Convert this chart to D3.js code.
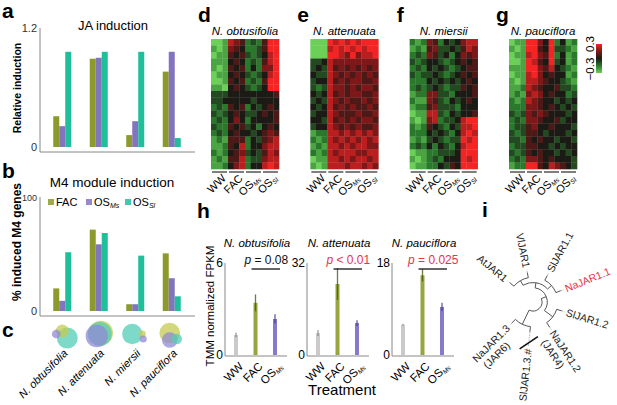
<!DOCTYPE html>
<html>
<head>
<meta charset="utf-8">
<script src="https://cdn.jsdelivr.net/npm/d3@7"></script>
<style>
  body { margin: 0; background: #fff; }
  text { font-family: "Liberation Sans", Arial, Helvetica, sans-serif; }
</style>
</head>
<body>
<script>
// ---- data ----
var species = ['N. obtusifolia', 'N. attenuata', 'N. miersii', 'N. pauciflora'];
var elicitors = ['FAC', 'OS_Ms', 'OS_Sl'];

// a: JA induction (relative)
var jaFAC = [0.31, 0.89, 0.12, 0.76];
var jaOSMs = [0.21, 0.90, 0.26, 0.96];
var jaOSSl = [0.96, 0.96, 0.96, 0.09];

// b: % induced M4 genes
var m4FAC = [20, 72, 6, 51];
var m4OSMs = [9, 59, 6, 29];
var m4OSSl = [52, 69, 49, 13];

// d-g: heatmaps, 12 columns (WW x3, FAC x3, OS_Ms x3, OS_Sl x3), coarse row bands
// digit 0 = -0.3 (green) ... 4 = 0 (black) ... 8 = +0.3 (red)
var heatTreatments = ['WW', 'FAC', 'OS_Ms', 'OS_Sl'];
var heatObtusifolia = [
  '001765232588', '101654223588', '011545323478', '111454232578', '101545242668',
  '011454323478', '001545232588', '110454323488', '333444444445', '334444434444',
  '232545243454', '323454334545', '232464244445', '322545342454', '232454434565',
  '121555243567', '112547244677', '212456343576', '121557233677', '112467244787'
];
var heatAttenuata = [
  '000878787888', '000787878788', '000887686778', '334766666666', '343756565656',
  '433765656565', '344756566556', '323766565665', '434756566556', '343765655656',
  '434756565565', '344765556556', '443756565665', '344765656556', '122776767676',
  '212767676767', '121776767766', '212767776677', '011776767767', '101777677676'
];
var heatMiersii = [
  '212652434677', '121563343576', '232653424656', '323443234545', '232434323455',
  '323343234545', '222434343454', '232343233545', '122663324445', '211653243454',
  '122563332444', '011773243445', '101672334788', '212543243778', '222434324787',
  '121343233878', '232424324788', '011223334888', '101232444878', '011224354888'
];
var heatPauciflora = [
  '011886482412', '101885483321', '011786582412', '001875483412', '111886574321',
  '011786454412', '101776544321', '112765445332', '121676454423', '212765443434',
  '222665454343', '323656544434', '232665445344', '233564454443', '323554344434',
  '332545443443', '233554434344', '323545443434', '232665454443', '122885476543'
];
var heatLegend = [-0.3, 0.3];

// h: TMM normalized FPKM
var hSpecies = ['N. obtusifolia', 'N. attenuata', 'N. pauciflora'];
var hTreatments = ['WW', 'FAC', 'OS_Ms'];
var hMean = [[1.3, 3.4, 2.35], [7.6, 24.7, 11.1], [5.9, 15.6, 9.4]];
var hErr = [[0.15, 0.55, 0.3], [1.0, 5.5, 1.0], [0.2, 1.2, 0.8]];
var hYMax = [6, 32, 18];
var hPText = ['= 0.08', '< 0.01', '= 0.025'];
var hPSignificant = [false, true, true];

// i: JAR tree
var jarTree = {
  children: [
    { children: [
      { children: [
        { children: [{ name: 'AtJAR1' }, { name: 'VlJAR1' }] },
        { children: [{ name: 'SlJAR1.1' }, { name: 'NaJAR1.1', highlight: true }] }
      ] },
      { children: [{ name: 'SlJAR1.2' }, { name: 'NaJAR1.2', note: '(JAR4)' }] }
    ] },
    { children: [{ name: 'SlJAR1.3.#', broken: true }, { name: 'NaJAR1.3', note: '(JAR6)' }] }
  ]
};

// ---- styles / layout ----
var colors = { FAC: '#8c9a2b', OS_Ms: '#8274bd', OS_Sl: '#1fbf9c' };
var vennColors = { FAC: '#c3cb4f', OS_Ms: '#9189d6', OS_Sl: '#52cdb6' };
var red = '#e8344a';

var svg = d3.select('body').append('svg')
  .attr('width', 617)
  .attr('height', 405);

function panelLetter(ch, x, y) {
  svg.append('text').attr('x', x).attr('y', y)
    .attr('font-size', 21).attr('font-weight', 'bold').text(ch);
}

// text with optional italic subscript, e.g. 'OS_Ms'
function subText(sel, s, subSize) {
  var parts = s.split('_');
  sel.append('tspan').text(parts[0]);
  if (parts[1]) {
    sel.append('tspan').attr('font-size', subSize).attr('font-style', 'italic')
      .attr('dy', 2).text(parts[1]);
  }
}

// ---- panels a, b, c ----
var xSpecies = d3.scaleBand().domain(species).range([44, 190]);
var xElicitor = d3.scaleBand().domain(elicitors).range([-9, 9]);

function barPanel(yScale, series, axisTop, axisBottom, tickTop) {
  var g = svg.append('g');
  g.append('line').attr('x1', 40).attr('x2', 40).attr('y1', axisTop).attr('y2', axisBottom)
    .attr('stroke', '#888');
  g.append('line').attr('x1', 40).attr('x2', 195).attr('y1', axisBottom).attr('y2', axisBottom)
    .attr('stroke', '#888');
  yScale.domain().forEach(function (v) {
    g.append('text').attr('x', 37).attr('y', yScale(v)).attr('dy', '0.35em')
      .attr('text-anchor', 'end').attr('font-size', v === 0 ? 11 : tickTop).attr('fill', '#333')
      .text(v);
  });
  elicitors.forEach(function (el, i) {
    g.selectAll(null).data(series[i]).join('rect')
      .attr('x', function (d, k) { return xSpecies(species[k]) + xSpecies.bandwidth() / 2 + xElicitor(el); })
      .attr('width', xElicitor.bandwidth())
      .attr('y', function (d) { return yScale(d); })
      .attr('height', function (d) { return yScale(0) - yScale(d); })
      .attr('fill', colors[el]);
  });
}

panelLetter('a', 2, 18);
svg.append('text').attr('x', 113).attr('y', 30).attr('text-anchor', 'middle')
  .attr('font-size', 13).text('JA induction');
var yA = d3.scaleLinear().domain([0, 1.2]).range([147, 28]);
barPanel(yA, [jaFAC, jaOSMs, jaOSSl], 28, 152, 11);
svg.append('text').attr('transform', 'translate(21,88) rotate(-90)')
  .attr('text-anchor', 'middle').attr('font-size', 10.5).attr('font-weight', 'bold')
  .text('Relative induction');

panelLetter('b', 2, 178);
svg.append('text').attr('x', 112).attr('y', 187).attr('text-anchor', 'middle')
  .attr('font-size', 13.5).text('M4 module induction');
var yB = d3.scaleLinear().domain([0, 100]).range([311, 198]);
barPanel(yB, [m4FAC, m4OSMs, m4OSSl], 197, 316, 9);
svg.append('text').attr('transform', 'translate(21,242) rotate(-90)')
  .attr('text-anchor', 'middle').attr('font-size', 12).attr('font-weight', 'bold')
  .text('% induced M4 genes');

// legend in b
var legX = d3.scaleOrdinal().domain(elicitors).range([48, 86, 125]);
elicitors.forEach(function (el) {
  svg.append('rect').attr('x', legX(el)).attr('y', 199).attr('width', 6).attr('height', 6)
    .attr('fill', colors[el]).attr('opacity', 0.85);
  var t = svg.append('text').attr('x', legX(el) + 8).attr('y', 206).attr('font-size', 11);
  subText(t, el, 7);
});

// c: venn-like overlaps, radius from % induced genes
panelLetter('c', 2, 337);
var vennR = d3.scaleSqrt().domain([0, 100]).range([0, 14.5]);
var vennSeries = [m4FAC, m4OSMs, m4OSSl];
var vennShift = [
  [[0, -3], [-6, 0], [5, 4]],
  [[2, -1], [-2, 2], [1, 0]],
  [[7, 0], [8, 5], [-3, 0]],
  [[-2, -1], [-2, 6], [5, 5]]
];
species.forEach(function (sp, k) {
  var cx = xSpecies(sp) + xSpecies.bandwidth() / 2;
  var circles = elicitors.map(function (el, i) {
    return { el: el, r: vennR(vennSeries[i][k]), dx: vennShift[k][i][0], dy: vennShift[k][i][1] };
  }).sort(function (p, q) { return q.r - p.r; });
  svg.selectAll(null).data(circles).join('circle')
    .attr('cx', function (d) { return cx + d.dx; })
    .attr('cy', function (d) { return 334 + d.dy; })
    .attr('r', function (d) { return d.r; })
    .attr('fill', function (d) { return vennColors[d.el]; })
    .attr('opacity', 0.75);
  svg.append('text')
    .attr('transform', 'translate(' + (cx + 6) + ',354) rotate(-45)')
    .attr('text-anchor', 'end').attr('font-size', 11).attr('font-style', 'italic')
    .text(sp);
});

// ---- panels d-g: heatmaps ----
var heatColor = d3.scaleLinear().domain([-0.3, -0.15, 0, 0.15, 0.3])
  .range(['#6cd058', '#2a782c', '#1c1a15', '#7e1818', '#f52424']).clamp(true);
var heatCols = d3.range(12);
var heatSets = [heatObtusifolia, heatAttenuata, heatMiersii, heatPauciflora];
var heatLeft = d3.scaleLinear().domain([0, 3]).range([211, 509]);
var heatLetters = ['d', 'e', 'f', 'g'];
var heatW = 68;
var yRow = d3.scaleBand().domain(d3.range(20)).range([39, 169]);

heatSets.forEach(function (rows, h) {
  var x0 = heatLeft(h);
  var xCol = d3.scaleBand().domain(heatCols).range([x0, x0 + heatW]);
  var cells = [];
  rows.forEach(function (row, r) {
    row.split('').forEach(function (ch, c) {
      cells.push({ r: r, c: c, v: (+ch - 4) * 0.075 });
    });
  });
  svg.append('g').selectAll('rect').data(cells).join('rect')
    .attr('x', function (d) { return xCol(d.c); })
    .attr('y', function (d) { return yRow(d.r); })
    .attr('width', xCol.bandwidth() + 0.3)
    .attr('height', yRow.bandwidth() + 0.3)
    .attr('fill', function (d) { return heatColor(d.v); });

  panelLetter(heatLetters[h], x0 - 13, 22);
  svg.append('text').attr('x', x0 + heatW / 2).attr('y', 35).attr('text-anchor', 'middle')
    .attr('font-size', 11.5).attr('font-style', 'italic').text(species[h]);

  heatTreatments.forEach(function (tr, j) {
    var a = xCol(j * 3) + 1, b = xCol(j * 3 + 2) + xCol.bandwidth() - 1;
    svg.append('line').attr('x1', a).attr('x2', b).attr('y1', 172).attr('y2', 172)
      .attr('stroke', '#555').attr('stroke-width', 1.5);
    var t = svg.append('text')
      .attr('transform', 'translate(' + ((a + b) / 2 + 7) + ',179) rotate(-45)')
      .attr('text-anchor', 'end').attr('font-size', 11);
    subText(t, tr, 6.5);
  });
});

// colour key
var defs = svg.append('defs');
var grad = defs.append('linearGradient').attr('id', 'heatgrad')
  .attr('x1', 0).attr('x2', 0).attr('y1', 1).attr('y2', 0);
[-0.3, -0.15, 0, 0.15, 0.3].forEach(function (v) {
  grad.append('stop').attr('offset', (v + 0.3) / 0.6).attr('stop-color', heatColor(v));
});
var yKey = d3.scaleLinear().domain(heatLegend).range([73, 44]);
svg.append('rect').attr('x', 596).attr('y', yKey(0.3)).attr('width', 6)
  .attr('height', yKey(-0.3) - yKey(0.3)).attr('fill', 'url(#heatgrad)');
heatLegend.forEach(function (v) {
  svg.append('text')
    .attr('transform', 'translate(594,' + (v < 0 ? yKey(v) - 4 : yKey(v)) + ') rotate(-90)')
    .attr('text-anchor', 'middle').attr('font-size', 11.5)
    .text(v < 0 ? '\u22120.3' : '0.3');
});

// ---- panel h: bar charts with error bars ----
panelLetter('h', 197, 218);
var hAxisX = [225, 307, 392];
var hColors = { WW: '#c4c4c4', FAC: '#8c9a2b', OS_Ms: '#7a6cc6' };
var hErrColors = { WW: '#808080', FAC: '#4b5712', OS_Ms: '#3e3588' };
var xH = d3.scalePoint().domain(hTreatments).range([11, 50]);

hSpecies.forEach(function (sp, p) {
  var ax = hAxisX[p];
  var y = d3.scaleLinear().domain([0, hYMax[p]]).range([355, 263]);
  var g = svg.append('g');
  g.append('line').attr('x1', ax).attr('x2', ax).attr('y1', 263).attr('y2', 356).attr('stroke', '#888');
  g.append('line').attr('x1', ax).attr('x2', ax + 62).attr('y1', 356).attr('y2', 356).attr('stroke', '#888');
  [0, hYMax[p]].forEach(function (v) {
    g.append('text').attr('x', ax - 2).attr('y', y(v)).attr('dy', '0.35em')
      .attr('text-anchor', 'end').attr('font-size', 12).text(v);
  });
  var bars = hTreatments.map(function (t, i) {
    return { t: t, m: hMean[p][i], e: hErr[p][i] };
  });
  g.selectAll('rect').data(bars).join('rect')
    .attr('x', function (d) { return ax + xH(d.t) - 2; })
    .attr('width', 4)
    .attr('y', function (d) { return y(d.m); })
    .attr('height', function (d) { return y(0) - y(d.m); })
    .attr('fill', function (d) { return hColors[d.t]; })
    .attr('opacity', 0.9);
  g.selectAll('line.err').data(bars).join('line').attr('class', 'err')
    .attr('x1', function (d) { return ax + xH(d.t); })
    .attr('x2', function (d) { return ax + xH(d.t); })
    .attr('y1', function (d) { return y(d.m + d.e); })
    .attr('y2', function (d) { return y(d.m - d.e); })
    .attr('stroke', function (d) { return hErrColors[d.t]; })
    .attr('stroke-width', 1.3).attr('opacity', 0.8);
  hTreatments.forEach(function (t) {
    var lab = g.append('text')
      .attr('transform', 'translate(' + (ax + xH(t) + 8) + ',367) rotate(-45)')
      .attr('text-anchor', 'end').attr('font-size', 11.5);
    subText(lab, t, 6.5);
  });
  var mid = (xH('FAC') + xH('OS_Ms')) / 2 + ax;
  g.append('text').attr('x', ax + 32).attr('y', 247).attr('text-anchor', 'middle')
    .attr('font-size', 11.5).attr('font-style', 'italic').text(sp);
  g.append('line').attr('x1', ax + xH('FAC') - 4).attr('x2', ax + xH('OS_Ms') + 5)
    .attr('y1', 269).attr('y2', 269).attr('stroke', '#111').attr('stroke-width', 1.3);
  var pt = g.append('text').attr('x', mid + 1).attr('y', 264).attr('text-anchor', 'middle')
    .attr('font-size', 12).attr('fill', hPSignificant[p] ? red : '#111');
  pt.append('tspan').attr('font-style', 'italic').text('p');
  pt.append('tspan').text(' ' + hPText[p]);
});
svg.append('text').attr('transform', 'translate(214,306) rotate(-90)')
  .attr('text-anchor', 'middle').attr('font-size', 11.5).text('TMM normalized FPKM');
svg.append('text').attr('x', 342).attr('y', 395).attr('text-anchor', 'middle')
  .attr('font-size', 15).text('Treatment');

// ---- panel i: radial JAR tree ----
panelLetter('i', 482, 217);
var cx = 533, cy = 302, startAngle = -70;
var root = d3.hierarchy(jarTree);
d3.cluster().size([315, 21]).separation(function () { return 1; })(root);
function rad(d) { return 9 + d.y; }
function pt(angle, r) {
  var a = angle * Math.PI / 180;
  return [cx + r * Math.sin(a), cy - r * Math.cos(a)];
}
function ang(d) { return d.x + startAngle; }

var tree = svg.append('g');
root.links().forEach(function (l) {
  var a0 = ang(l.source), a1 = ang(l.target), r0 = rad(l.source), r1 = rad(l.target);
  var p0 = pt(a0, r0), p2 = pt(a1, r1);
  var path = d3.path();
  path.moveTo(p0[0], p0[1]);
  if (Math.abs(a1 - a0) > 0.01) {
    path.arc(cx, cy, r0, (a0 - 90) * Math.PI / 180, (a1 - 90) * Math.PI / 180, a1 < a0);
  }
  path.lineTo(p2[0], p2[1]);
  tree.append('path').attr('d', path.toString()).attr('fill', 'none')
    .attr('stroke', '#555').attr('stroke-width', 1);
});

root.leaves().forEach(function (d) {
  var a = ang(d), r = rad(d);
  var ext = d.data.broken ? 15 : 3;
  var e0 = pt(a, r), e1 = pt(a, r + ext);
  tree.append('line').attr('x1', e0[0]).attr('y1', e0[1]).attr('x2', e1[0]).attr('y2', e1[1])
    .attr('stroke', '#8fa0ad').attr('stroke-width', 0.8).attr('stroke-dasharray', '1.5,1');
  if (d.data.broken) {
    var m = pt(a, r + 11);
    var t = (a - 130) * Math.PI / 180;
    tree.append('line')
      .attr('x1', m[0] - 11 * Math.sin(t)).attr('y1', m[1] + 11 * Math.cos(t))
      .attr('x2', m[0] + 11 * Math.sin(t)).attr('y2', m[1] - 11 * Math.cos(t))
      .attr('stroke', '#111').attr('stroke-width', 1.6);
  }
  var norm = (a + 360) % 360;
  var right = norm < 180;
  var lp = pt(a, r + ext + 2);
  var txt = tree.append('text')
    .attr('transform', 'translate(' + lp[0] + ',' + lp[1] + ') rotate(' + (right ? norm - 90 : norm + 90) + ')')
    .attr('text-anchor', right ? 'start' : 'end')
    .attr('font-size', 10.5)
    .attr('fill', d.data.highlight ? red : '#222');
  txt.append('tspan').attr('x', 0).attr('dy', '0.35em').text(d.data.name);
  if (d.data.note) {
    txt.append('tspan').attr('x', right ? 3 : -12).attr('dy', '1.15em').text(d.data.note);
  }
});
</script>
</body>
</html>
